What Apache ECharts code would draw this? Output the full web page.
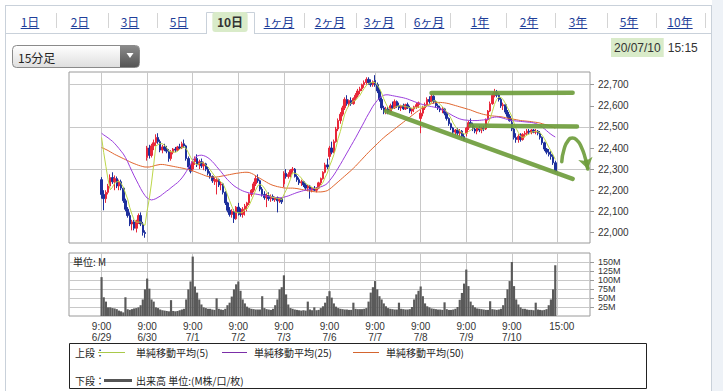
<!DOCTYPE html>
<html><head><meta charset="utf-8">
<script src="https://cdn.jsdelivr.net/npm/echarts@6/dist/echarts.min.js"></script>
<style>html,body{margin:0;padding:0;background:#fff;}#c{width:723px;height:391px;}</style>
</head><body><div id="c"></div>
<script>
// ---------------- DATA ----------------
const dayLabels = ['6/29','6/30','7/1','7/2','7/3','7/6','7/7','7/8','7/9','7/10'];
const barTimes = ['9:00','9:15','9:30','9:45','10:00','10:15','10:30','10:45','11:00','11:15','11:30',
                  '12:45','13:00','13:15','13:30','13:45','14:00','14:15','14:30','14:45','15:00'];
const dayTickLabel = '9:00';
const closeTickLabel = '15:00';
const priceTicks = [22000,22100,22200,22300,22400,22500,22600,22700];
const volumeTicks = [25,50,75,100,125,150];

// [open, high, low, close] per 15-minute bar
const ohlc0629 = [[22250,22262,22160,22180],[22180,22200,22105,22160],[22160,22200,22140,22190],[22190,22230,22180,22220],[22220,22275,22210,22260],[22260,22285,22230,22240],[22240,22270,22200,22255],[22255,22265,22210,22220],[22220,22250,22200,22240],[22240,22250,22200,22210],[22210,22215,22140,22150],[22150,22160,22100,22110],[22110,22120,22070,22080],[22080,22095,22030,22040],[22040,22060,22010,22050],[22050,22060,22010,22020],[22020,22060,22000,22055],[22055,22090,22040,22080],[22080,22095,22030,22040],[22040,22050,21985,22000],[22000,22010,21975,21995]];
const ohlc0630 = [[22355,22410,22340,22400],[22400,22415,22350,22365],[22365,22420,22355,22410],[22410,22440,22390,22425],[22425,22465,22410,22450],[22450,22470,22420,22430],[22430,22440,22380,22390],[22390,22415,22375,22405],[22405,22420,22385,22395],[22395,22410,22375,22385],[22385,22395,22335,22350],[22350,22390,22340,22380],[22380,22400,22370,22395],[22395,22405,22380,22390],[22390,22410,22385,22405],[22405,22420,22395,22400],[22400,22430,22395,22420],[22420,22440,22400,22410],[22410,22415,22340,22350],[22350,22360,22300,22310],[22310,22320,22280,22290]];
const ohlc0701 = [[22300,22345,22290,22335],[22335,22360,22320,22350],[22350,22370,22310,22320],[22320,22345,22300,22335],[22335,22350,22305,22315],[22315,22335,22295,22325],[22325,22330,22290,22300],[22300,22310,22270,22280],[22280,22290,22255,22265],[22265,22270,22235,22245],[22245,22260,22225,22250],[22240,22260,22180,22250],[22250,22255,22215,22225],[22225,22240,22200,22230],[22230,22235,22180,22190],[22190,22195,22130,22140],[22140,22145,22095,22105],[22105,22120,22075,22085],[22085,22110,22070,22100],[22100,22110,22045,22065],[22065,22125,22060,22120]];
const ohlc0702 = [[22120,22140,22080,22095],[22095,22115,22075,22085],[22085,22120,22070,22110],[22110,22135,22080,22125],[22125,22145,22100,22140],[22140,22185,22130,22180],[22180,22205,22170,22200],[22200,22240,22190,22230],[22230,22270,22220,22255],[22255,22275,22235,22245],[22245,22250,22195,22205],[22205,22215,22170,22180],[22180,22195,22155,22165],[22165,22185,22120,22175],[22175,22190,22150,22160],[22160,22180,22145,22170],[22170,22180,22150,22155],[22155,22170,22145,22165],[22165,22170,22095,22150],[22150,22165,22140,22160],[22160,22165,22135,22145]];
const ohlc0703 = [[22230,22290,22215,22280],[22280,22300,22255,22265],[22265,22285,22255,22275],[22275,22300,22260,22295],[22295,22310,22280,22300],[22300,22305,22260,22265],[22265,22275,22240,22250],[22250,22260,22225,22235],[22235,22250,22220,22240],[22240,22245,22215,22225],[22225,22235,22200,22210],[22210,22225,22195,22220],[22220,22225,22160,22200],[22200,22215,22190,22210],[22210,22220,22195,22200],[22200,22215,22190,22210],[22210,22240,22205,22235],[22235,22260,22225,22255],[22255,22290,22250,22285],[22285,22330,22280,22320],[22320,22350,22300,22310]];
const ohlc0706 = [[22360,22410,22345,22400],[22400,22430,22370,22380],[22380,22440,22375,22430],[22430,22500,22425,22490],[22490,22540,22480,22530],[22530,22570,22515,22560],[22560,22600,22550,22590],[22590,22640,22580,22630],[22630,22650,22600,22610],[22610,22630,22595,22625],[22625,22640,22600,22610],[22610,22640,22605,22635],[22635,22660,22625,22650],[22650,22680,22640,22670],[22670,22690,22655,22680],[22680,22705,22670,22700],[22700,22720,22685,22710],[22710,22735,22700,22725],[22725,22735,22700,22710],[22710,22725,22690,22700],[22700,22720,22690,22714]];
const ohlc0707 = [[22720,22745,22690,22700],[22700,22710,22660,22670],[22670,22680,22620,22630],[22630,22640,22580,22590],[22590,22600,22560,22575],[22575,22595,22560,22585],[22585,22595,22560,22570],[22570,22610,22565,22600],[22600,22620,22585,22590],[22590,22630,22585,22620],[22620,22625,22590,22600],[22600,22615,22580,22590],[22590,22605,22575,22600],[22600,22610,22580,22585],[22585,22610,22580,22605],[22605,22615,22585,22590],[22590,22600,22565,22575],[22575,22590,22560,22585],[22585,22600,22570,22595],[22595,22615,22585,22605],[22605,22620,22590,22614]];
const ohlc0708 = [[22540,22580,22470,22565],[22565,22600,22550,22590],[22590,22615,22580,22605],[22605,22640,22595,22630],[22630,22645,22610,22620],[22620,22655,22615,22645],[22645,22650,22610,22620],[22620,22625,22590,22600],[22600,22610,22580,22590],[22590,22600,22570,22580],[22580,22595,22565,22585],[22585,22590,22555,22565],[22565,22570,22530,22540],[22540,22545,22505,22515],[22515,22520,22485,22495],[22495,22500,22465,22475],[22475,22490,22460,22485],[22485,22495,22460,22470],[22470,22490,22455,22480],[22480,22485,22445,22455],[22455,22470,22435,22440]];
const ohlc0709 = [[22470,22500,22455,22495],[22495,22530,22485,22520],[22520,22540,22500,22510],[22510,22520,22480,22490],[22490,22505,22470,22480],[22480,22500,22465,22495],[22495,22505,22475,22485],[22485,22500,22470,22495],[22495,22505,22480,22490],[22490,22540,22485,22535],[22535,22580,22530,22575],[22575,22620,22570,22610],[22610,22660,22605,22650],[22650,22680,22640,22665],[22665,22675,22640,22650],[22650,22660,22620,22630],[22630,22640,22590,22600],[22600,22615,22580,22605],[22605,22610,22560,22570],[22570,22580,22540,22550],[22550,22560,22525,22529]];
const ohlc0710 = [[22520,22540,22480,22490],[22490,22495,22440,22450],[22450,22470,22425,22440],[22440,22465,22425,22455],[22455,22470,22430,22440],[22440,22470,22435,22465],[22465,22480,22450,22470],[22470,22490,22460,22480],[22480,22490,22465,22475],[22475,22490,22465,22485],[22485,22490,22470,22475],[22475,22490,22465,22480],[22480,22485,22460,22470],[22470,22480,22440,22450],[22450,22455,22415,22425],[22425,22430,22385,22395],[22395,22400,22370,22380],[22380,22395,22360,22370],[22370,22385,22345,22360],[22360,22370,22320,22330],[22330,22340,22285,22290]];

// simple moving averages
const sma5 = [
 22450,22378,22313,22250,22202,22214,22233,22239,22243,22233,22215,22186,22158,22118,22086,22060,22049,22049,22049,22039,22034,
 22103,22160,22234,22319,22410,22416,22421,22420,22414,22401,22385,22383,22381,22380,22384,22394,22402,22405,22397,22378,22356,
 22339,22327,22321,22326,22331,22329,22319,22311,22297,22283,22268,22258,22247,22240,22229,22207,22178,22150,22124,22099,22095,
 22093,22093,22095,22107,22111,22128,22151,22175,22201,22222,22227,22223,22210,22194,22177,22170,22165,22165,22160,22160,22155,
 22180,22200,22225,22252,22283,22280,22277,22269,22258,22243,22232,22226,22219,22213,22208,22208,22211,22222,22237,22261,22281,
 22314,22339,22368,22402,22446,22478,22520,22560,22584,22603,22613,22622,22626,22638,22649,22667,22682,22697,22705,22709,22712,
 22710,22699,22683,22661,22633,22610,22590,22584,22584,22593,22596,22600,22600,22599,22596,22594,22591,22588,22590,22590,22595,
 22593,22594,22596,22601,22602,22618,22624,22623,22615,22607,22595,22584,22572,22557,22540,22518,22502,22488,22481,22473,22466,
 22468,22478,22484,22491,22499,22499,22492,22489,22489,22500,22516,22541,22572,22607,22630,22641,22639,22630,22611,22591,22571,
 22549,22518,22492,22473,22455,22450,22454,22462,22466,22475,22477,22479,22477,22472,22460,22444,22424,22404,22386,22367,22346];
const sma25 = [
 22470,22462,22455,22448,22440,22432,22422,22410,22398,22385,22372,22355,22335,22312,22290,22268,22248,22228,22208,22190,22175,
 22163,22157,22154,22156,22160,22166,22172,22180,22188,22196,22203,22212,22220,22228,22236,22246,22258,22272,22288,22305,22322,
 22340,22355,22362,22365,22366,22364,22360,22354,22346,22336,22325,22312,22300,22288,22275,22262,22250,22240,22230,22221,22214,
 22208,22202,22197,22193,22190,22187,22185,22183,22182,22180,22178,22176,22174,22172,22170,22168,22166,22165,22164,22164,22165,
 22167,22170,22173,22177,22181,22185,22189,22192,22195,22198,22200,22202,22204,22206,22208,22210,22213,22216,22220,22225,22232,
 22245,22258,22272,22288,22305,22322,22340,22358,22376,22394,22412,22430,22448,22467,22486,22505,22524,22544,22562,22580,22598,
 22612,22625,22636,22645,22650,22652,22652,22650,22648,22646,22644,22642,22640,22638,22635,22632,22628,22624,22620,22616,22612,
 22609,22606,22603,22600,22598,22596,22594,22592,22590,22586,22581,22576,22570,22564,22558,22552,22547,22542,22538,22535,22533,
 22532,22531,22530,22530,22530,22530,22531,22532,22533,22535,22538,22541,22544,22546,22547,22546,22544,22541,22538,22535,22532,
 22530,22529,22528,22527,22526,22525,22524,22523,22522,22521,22519,22516,22512,22506,22499,22491,22482,22473,22465,22458,22452];
const sma50 = [
 22402,22398,22393,22388,22382,22376,22370,22365,22360,22355,22350,22345,22340,22335,22330,22326,22322,22318,22315,22312,22310,
 22310,22310,22312,22315,22318,22320,22322,22322,22321,22319,22317,22315,22313,22311,22309,22307,22305,22303,22300,22298,22295,
 22292,22288,22284,22280,22276,22272,22268,22265,22263,22262,22262,22263,22264,22266,22268,22270,22272,22274,22276,22278,22280,
 22281,22283,22284,22285,22285,22284,22280,22275,22268,22262,22256,22250,22244,22238,22232,22227,22223,22220,22217,22215,22213,
 22211,22210,22210,22210,22210,22209,22208,22206,22204,22202,22200,22198,22196,22194,22193,22192,22192,22192,22193,22195,22198,
 22205,22213,22222,22231,22240,22249,22258,22267,22276,22285,22294,22304,22314,22325,22336,22347,22358,22369,22380,22390,22400,
 22410,22420,22430,22440,22449,22458,22466,22474,22482,22490,22498,22506,22514,22522,22530,22538,22546,22554,22562,22570,22577,
 22584,22590,22596,22601,22606,22610,22613,22615,22616,22616,22615,22614,22612,22610,22607,22604,22601,22598,22595,22592,22589,
 22586,22583,22580,22576,22572,22568,22565,22562,22559,22557,22555,22553,22552,22551,22550,22549,22548,22546,22544,22542,22540,
 22538,22536,22534,22532,22530,22529,22528,22527,22526,22525,22523,22522,22520,22518,22515,22512,22509,22506,22502,22498,22494];

// volume, millions
const volume = [
 108,52,40,24,24,22,21,19,15,13,10,52,19,17,19,21,22,24,30,46,74,
 104,76,46,40,24,22,18,16,15,14,13,44,14,13,14,16,18,20,46,74,96,
 165,82,65,46,32,24,22,20,20,18,17,49,20,18,17,20,30,37,54,74,88,
 96,70,46,35,26,22,20,19,18,18,18,55,22,19,18,17,20,30,46,74,80,
 113,60,32,22,20,18,17,16,15,16,15,40,18,16,24,16,17,22,27,37,55,
 69,51,35,26,22,20,19,18,18,17,17,37,20,19,19,19,20,22,40,65,80,
 97,74,55,46,35,27,22,20,19,18,18,37,20,19,18,18,19,25,46,60,70,
 82,55,35,27,24,21,20,19,18,18,17,38,19,17,17,18,20,25,45,64,90,
 129,83,40,30,24,21,20,19,18,17,17,41,19,18,17,18,20,30,50,74,97,
 150,83,46,32,24,20,20,18,17,17,16,37,18,17,16,17,19,30,46,74,141];

// hand-drawn annotations, in data coordinates [bar index on axis, price]
const annoResistance = [[167,22660],[232,22662]];
const annoMiddle = [[185,22506],[234,22502]];
const annoSupport = [[146,22575],[232,22254]];
const annoArc = [[227,22335],[228,22392],[230,22436],[232,22447],[234,22436],[236,22405],[238,22345],[239,22300]];

// header / legend texts
const tabLabels = ['1日','2日','3日','5日','10日','1ヶ月','2ヶ月','3ヶ月','6ヶ月','1年','2年','3年','5年','10年'];
const selectedTab = '10日';
const periodLabel = '15分足';
const stampDate = '20/07/10';
const stampTime = '15:15';
const unitLabel = '単位: M';
const legendUpper = '上段：';
const legendLower = '下段：';
const legendSeries = ['単純移動平均(5)','単純移動平均(25)','単純移動平均(50)'];
const legendVolume = '出来高 単位:(M株/口/枚)';

// ---------------- BUILD ----------------
const PAD_L = 15, PAD_R = 16;
const ohlcDays = [ohlc0629,ohlc0630,ohlc0701,ohlc0702,ohlc0703,ohlc0706,ohlc0707,ohlc0708,ohlc0709,ohlc0710];
const cats = [];
const candle = [], vol = [], m5 = [], m25 = [], m50 = [];
for (let i = 0; i < PAD_L; i++) { cats.push('L' + i); candle.push('-'); vol.push('-'); m5.push('-'); m25.push('-'); m50.push('-'); }
let n = 0;
ohlcDays.forEach((day, d) => {
  day.forEach((b, k) => {
    cats.push(dayLabels[d] + ' ' + barTimes[k]);
    candle.push([b[0], b[3], b[2], b[1]]);
    vol.push(volume[n]); m5.push(sma5[n]); m25.push(sma25[n]); m50.push(sma50[n]);
    n++;
  });
});
for (let i = 0; i < PAD_R; i++) { cats.push('R' + i); candle.push('-'); vol.push('-'); m5.push('-'); m25.push('-'); m50.push('-'); }

const arcData = cats.map(() => '-');
annoArc.forEach(p => { arcData[p[0]] = p[1]; });

const perDay = barTimes.length;
const gridIdx = new Set();
const labelMap = {};
dayLabels.forEach((d, i) => { const idx = PAD_L + perDay * i; gridIdx.add(idx); labelMap[cats[idx]] = dayTickLabel + '\n' + d; });
const closeGridIdx = PAD_L + perDay * dayLabels.length;
gridIdx.add(closeGridIdx);
const closeLabelIdx = closeGridIdx + 2;
labelMap[cats[closeLabelIdx]] = closeTickLabel;
const labelIdx = new Set(Object.keys(labelMap).map(k => cats.indexOf(k)));

const GRID_L = 69, GRID_W = 521;
const numFont = 'Liberation Sans, Arial, sans-serif';
const GREEN = '#6f9d3d';

const mk = (pts) => [{coord: pts[0]}, {coord: pts[1]}];

// --------- graphics (page chrome) ---------
const mctx = document.createElement('canvas').getContext('2d');
function tw(t, f) { mctx.font = f; return mctx.measureText(t).width; }
const g = [];
const frame = '#c9d1da';
g.push({type:'rect', shape:{x:712, y:0, width:11, height:391}, style:{fill:'#eef2f7'}, silent:true});
g.push({type:'line', shape:{x1:5, y1:5.5, x2:712, y2:5.5}, style:{stroke:frame, lineWidth:1}, silent:true});
g.push({type:'line', shape:{x1:5.5, y1:5, x2:5.5, y2:391}, style:{stroke:frame, lineWidth:1}, silent:true});
g.push({type:'line', shape:{x1:711.5, y1:5, x2:711.5, y2:391}, style:{stroke:frame, lineWidth:1}, silent:true});
// tabs
const tabCenters = [30,80,130,179,230,279,330,379,429,480,529,578,629,680];
const tabSeps = [56,108,157,304,356,405,450,506,555,607,656,705];
const selL = 206, selR = 255;
g.push({type:'line', shape:{x1:5, y1:33.5, x2:selL, y2:33.5}, style:{stroke:frame}, silent:true});
g.push({type:'line', shape:{x1:selR, y1:33.5, x2:712, y2:33.5}, style:{stroke:frame}, silent:true});
g.push({type:'polyline', shape:{points:[[selL+0.5,34],[selL+0.5,12.5],[selR-0.5,12.5],[selR-0.5,34]]}, style:{stroke:frame, fill:'none'}, silent:true});
tabSeps.forEach(x => g.push({type:'line', shape:{x1:x+0.5, y1:13, x2:x+0.5, y2:28}, style:{stroke:'#d4d4d4'}, silent:true}));
const tabFont = '12px "Noto Sans CJK JP"';
tabLabels.forEach((t, i) => {
  const cx = tabCenters[i];
  const w = tw(t, tabFont);
  if (t === selectedTab) {
    g.push({type:'rect', shape:{x:cx - w/2 - 5, y:12, width:w + 10, height:20, r:3}, style:{fill:'#d9ebc9'}, silent:true});
    g.push({type:'text', x:cx, y:21, style:{text:t, fill:'#333', font:'bold 12px "Noto Sans CJK JP"', textAlign:'center', textVerticalAlign:'middle'}, silent:true});
  } else {
    g.push({type:'text', x:cx, y:21, style:{text:t, fill:'#1f3f9a', font:tabFont, textAlign:'center', textVerticalAlign:'middle'}, silent:true});
    g.push({type:'line', shape:{x1:cx - w/2, y1:28.5, x2:cx + w/2, y2:28.5}, style:{stroke:'#1f3f9a', lineWidth:1}, silent:true});
  }
});
// dropdown
g.push({type:'rect', shape:{x:12.5, y:45.5, width:127, height:22, r:4},
  style:{fill:new echarts.graphic.LinearGradient(0,0,0,1,[{offset:0,color:'#ffffff'},{offset:1,color:'#dedede'}]), stroke:'#8a8a8a', lineWidth:1}, silent:true});
g.push({type:'rect', shape:{x:120, y:46, width:19, height:21, r:[0,3,3,0]},
  style:{fill:new echarts.graphic.LinearGradient(0,0,0,1,[{offset:0,color:'#8a8a8a'},{offset:1,color:'#555'}])}, silent:true});
g.push({type:'polygon', shape:{points:[[126.5,53],[133.5,53],[130,58]]}, style:{fill:'#fff'}, silent:true});
g.push({type:'text', x:18, y:57, style:{text:periodLabel, fill:'#222', font:'12px "Noto Sans CJK JP"', textVerticalAlign:'middle'}, silent:true});
// date stamp
const stampFont = '12px Liberation Sans';
const dw = tw(stampDate, stampFont);
g.push({type:'rect', shape:{x:611, y:38, width:dw + 6, height:19}, style:{fill:'#d9ebc9'}, silent:true});
g.push({type:'text', x:614, y:48, style:{text:stampDate, fill:'#333', font:stampFont, textVerticalAlign:'middle'}, silent:true});
g.push({type:'text', x:614 + dw + 7, y:48, style:{text:stampTime, fill:'#333', font:stampFont, textVerticalAlign:'middle'}, silent:true});
// volume unit label
g.push({type:'text', x:73, y:261, style:{text:unitLabel, fill:'#222', font:'10px "Noto Sans CJK JP"', textVerticalAlign:'middle'}, z:50, silent:true});
// legend box
const lgFont = '10px "Noto Sans CJK JP"';
g.push({type:'rect', shape:{x:69.5, y:343.5, width:577, height:45}, style:{fill:'#fff', stroke:'#222', lineWidth:1}, silent:true});
g.push({type:'text', x:75, y:352, style:{text:legendUpper, fill:'#222', font:lgFont, textVerticalAlign:'middle'}, silent:true});
const lgLines = [[98,125,'#a9c94a'],[222,247,'#7b2ea8'],[353,379,'#d4652f']];
const lgText = [136,254,386];
lgLines.forEach((l, i) => {
  g.push({type:'line', shape:{x1:l[0], y1:352.5, x2:l[1], y2:352.5}, style:{stroke:l[2], lineWidth:1}, silent:true});
  g.push({type:'text', x:lgText[i], y:352, style:{text:legendSeries[i], fill:'#222', font:lgFont, textVerticalAlign:'middle'}, silent:true});
});
g.push({type:'text', x:75, y:380, style:{text:legendLower, fill:'#222', font:lgFont, textVerticalAlign:'middle'}, silent:true});
g.push({type:'line', shape:{x1:104, y1:380.5, x2:132, y2:380.5}, style:{stroke:'#555', lineWidth:3}, silent:true});
g.push({type:'text', x:136, y:380, style:{text:legendVolume, fill:'#222', font:lgFont, textVerticalAlign:'middle'}, silent:true});

// ---------------- CHART ----------------
const chart = echarts.init(document.getElementById('c'), null, {renderer:'svg', width:723, height:391});
const option = {
  animation: false,
  backgroundColor: '#fff',
  graphic: { elements: g },
  grid: [
    {left: GRID_L, top: 72, width: GRID_W, height: 171, show: true, borderColor: '#9a9a9a', borderWidth: 1, backgroundColor: '#fff'},
    {left: GRID_L, top: 253, width: GRID_W, height: 63, show: true, borderColor: '#9a9a9a', borderWidth: 1, backgroundColor: '#fff'}
  ],
  xAxis: [
    {type:'category', gridIndex:0, data:cats, boundaryGap:false,
     axisLine:{show:false}, axisTick:{show:false}, axisLabel:{show:false},
     splitLine:{show:true, interval:(i) => gridIdx.has(i), lineStyle:{color:'#c8c8c8', width:1}}},
    {type:'category', gridIndex:1, data:cats, boundaryGap:false,
     axisLine:{show:false}, axisTick:{show:false},
     axisLabel:{show:true, interval:(i) => labelIdx.has(i), formatter:(v) => labelMap[v] || '',
       fontSize:10, fontFamily:numFont, color:'#333', lineHeight:11, margin:5},
     splitLine:{show:true, interval:(i) => gridIdx.has(i), lineStyle:{color:'#c8c8c8', width:1}}}
  ],
  yAxis: [
    {type:'value', gridIndex:0, position:'right', min:21950, max:22760, interval:50, scale:true,
     axisLine:{show:false},
     axisTick:{show:true, length:4, customValues:priceTicks, lineStyle:{color:'#9a9a9a'}},
     axisLabel:{show:true, customValues:priceTicks, formatter:(v) => (v % 100 === 0 && v >= 22000 && v <= 22700) ? v.toLocaleString('en-US') : '',
       fontSize:10, fontFamily:numFont, color:'#333', margin:8},
     splitLine:{show:true, lineStyle:{color:['rgba(0,0,0,0)','#c8c8c8'], width:1}}},
    {type:'value', gridIndex:1, position:'right', min:0, max:175, interval:25,
     axisLine:{show:false},
     axisTick:{show:true, length:4, customValues:volumeTicks, lineStyle:{color:'#9a9a9a'}},
     axisLabel:{show:true, customValues:volumeTicks, hideOverlap:false, formatter:(v) => (v > 0 && v < 175) ? v + 'M' : '',
       fontSize:9, fontFamily:numFont, color:'#333', margin:8, lineHeight:8},
     splitLine:{show:true, lineStyle:{color:'#c8c8c8', width:1}}}
  ],
  series: [
    {type:'candlestick', name:'price', xAxisIndex:0, yAxisIndex:0, data:candle, barWidth:2, z:2,
     itemStyle:{color:'#e8273a', color0:'#1d2f9c', borderColor:'#e8273a', borderColor0:'#1d2f9c', borderWidth:1}},
    {type:'line', name:'SMA50', xAxisIndex:0, yAxisIndex:0, data:m50, showSymbol:false, symbol:'none', z:3,
     lineStyle:{color:'#e0662f', width:1}},
    {type:'line', name:'SMA25', xAxisIndex:0, yAxisIndex:0, data:m25, showSymbol:false, symbol:'none', z:3,
     lineStyle:{color:'#9b3fdc', width:1}},
    {type:'line', name:'SMA5', xAxisIndex:0, yAxisIndex:0, data:m5, showSymbol:false, symbol:'none', z:4,
     lineStyle:{color:'#bcd64a', width:1}},
    {type:'line', name:'annotations', xAxisIndex:0, yAxisIndex:0, data:cats.map(() => '-'), z:10, silent:true,
     markLine:{silent:true, animation:false, symbol:'none', label:{show:false}, emphasis:{disabled:true},
       lineStyle:{color:GREEN, width:4.5, type:'solid', opacity:0.92, cap:'round'},
       data:[ mk(annoResistance), mk(annoMiddle), mk(annoSupport) ]}},
    {type:'line', name:'arc', xAxisIndex:0, yAxisIndex:0, data:arcData, connectNulls:true, smooth:0.6,
     showSymbol:false, symbol:'none', z:10, silent:true, clip:false,
     lineStyle:{color:GREEN, width:3.5, opacity:0.92, cap:'round'},
     markLine:{silent:true, animation:false, label:{show:false}, emphasis:{disabled:true}, symbol:['none','arrow'], symbolSize:11,
       lineStyle:{color:GREEN, width:3.5, type:'solid', opacity:0.92},
       data:[ mk([annoArc[annoArc.length-2], annoArc[annoArc.length-1]]) ]}},
    {type:'bar', name:'volume', xAxisIndex:1, yAxisIndex:1, data:vol, barCategoryGap:'0%', z:2,
     itemStyle:{color:'#5a5a5a'}}
  ]
};
chart.setOption(option);
</script>
</body></html>
